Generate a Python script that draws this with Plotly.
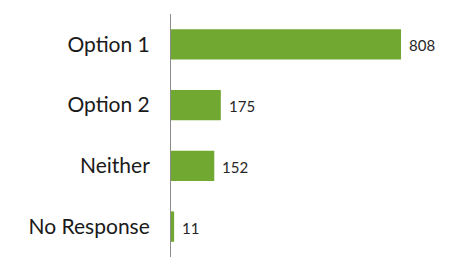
import plotly.graph_objects as go

categories = ["Option 1", "Option 2", "Neither", "No Response"]
counts = [808, 175, 152, 11]

bar_color = "rgb(112,168,50)"

fig = go.Figure(
    go.Bar(
        x=counts,
        y=categories,
        orientation="h",
        marker=dict(color=bar_color, line=dict(width=0)),
        hoverinfo="skip",
    )
)

# value labels just past the end of each bar
for cat, val in zip(categories, counts):
    fig.add_annotation(
        x=val, y=cat, text=str(val), showarrow=False,
        xanchor="left", yanchor="middle", xshift=6, yshift=-1,
        font=dict(family="Lato, sans-serif", size=15, color="#262626"),
    )

fig.update_layout(
    width=450, height=264,
    margin=dict(l=171, r=0, t=14, b=7),
    paper_bgcolor="white", plot_bgcolor="white",
    bargap=0.5,
    showlegend=False,
    xaxis=dict(range=[0, 980], visible=False, fixedrange=True),
    yaxis=dict(
        autorange="reversed",
        showline=True, linecolor="#8c8c8c", linewidth=1,
        showgrid=False, zeroline=False, ticks="",
        ticklabelstandoff=16,
        tickfont=dict(family="Lato, sans-serif", size=21, color="#1a1a1a"),
        fixedrange=True,
    ),
)

fig.write_html("out.html")
